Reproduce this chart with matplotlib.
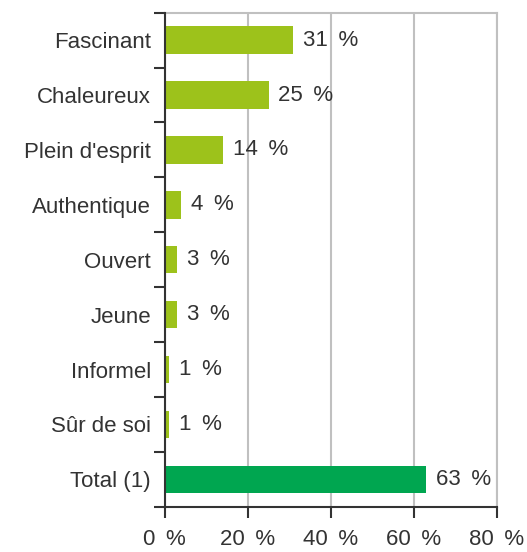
import numpy as np
import matplotlib.pyplot as plt
from matplotlib.ticker import FixedLocator

plt.rcParams['font.family'] = ['Liberation Sans', 'DejaVu Sans']

# Data
labels = ['Fascinant', 'Chaleureux', "Plein d'esprit", 'Authentique',
          'Ouvert', 'Jeune', 'Informel', 'Sûr de soi', 'Total (1)']
values = [31, 25, 14, 4, 3, 3, 1, 1, 63]
bar_colors = ['#9dc21b'] * 8 + ['#00a650']
xticks = [0, 20, 40, 60, 80]

text_col = '#333333'
grid_col = '#c0c0c0'
fs = 16
sp = ' \u2009'  # slightly wider gap before the % sign, as in the original

fig = plt.figure(figsize=(5.27, 5.52), dpi=100)
ax = fig.add_axes([0.3125, 0.082, 0.943 - 0.3125, 0.977 - 0.082])

y = np.arange(len(labels))
ax.barh(y, values, height=0.5, color=bar_colors, zorder=3)

for yi, v in zip(y, values):
    ax.annotate(f'{v}{sp}%', (v, yi), xytext=(7, 0), textcoords='offset points',
                va='center', ha='left', fontsize=fs, color=text_col)

ax.set_xlim(0, 80)
ax.set_ylim(len(labels) - 0.5, -0.5)

ax.set_xticks(xticks)
ax.set_xticklabels([f'{t}{sp}%' for t in xticks])
ax.set_yticks(y)
ax.set_yticklabels(labels)
ax.yaxis.set_minor_locator(FixedLocator(np.arange(-0.5, len(labels), 1)))

ax.tick_params(axis='y', which='major', length=0, pad=10, labelsize=fs,
               labelcolor=text_col)
ax.tick_params(axis='y', which='minor', length=8, width=1.5, color=text_col)
ax.tick_params(axis='x', which='major', length=8, width=1.5, color=text_col,
               labelsize=fs, labelcolor=text_col, pad=8)

ax.grid(axis='x', color=grid_col, linewidth=1.5, zorder=0)
for s in ['top', 'right']:
    ax.spines[s].set_color(grid_col)
    ax.spines[s].set_linewidth(1.5)
for s in ['left', 'bottom']:
    ax.spines[s].set_color(text_col)
    ax.spines[s].set_linewidth(1.5)
    ax.spines[s].set_zorder(4)

fig.savefig('out.png', dpi=100)
